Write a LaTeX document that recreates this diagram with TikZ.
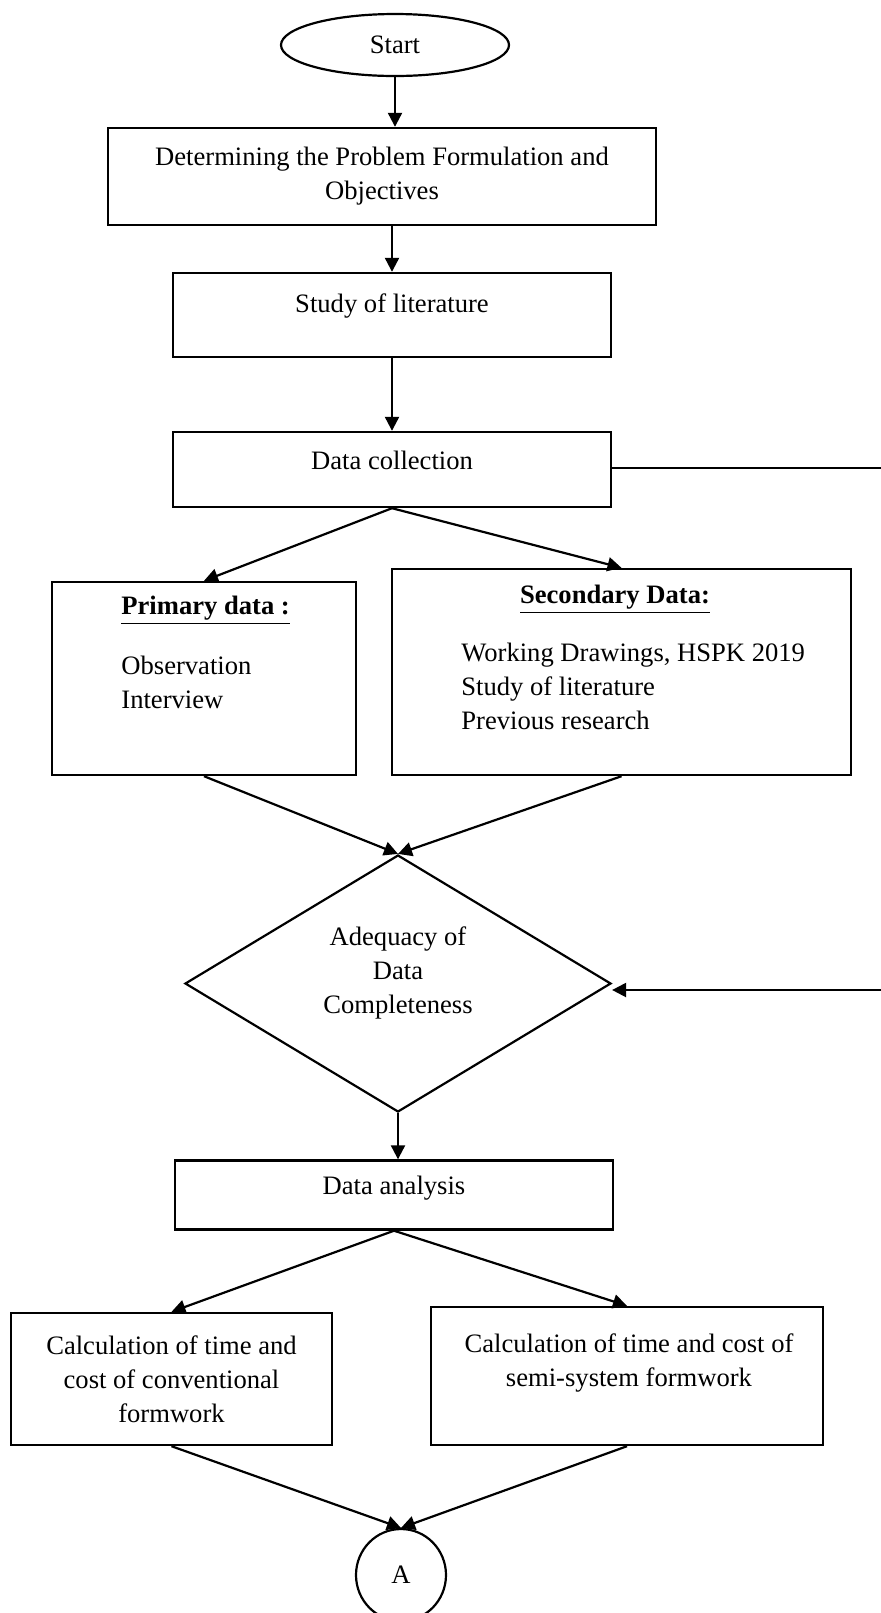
\documentclass[tikz,border=0pt]{standalone}
\usepackage{fontspec}
\setmainfont{Liberation Serif}
\usetikzlibrary{shapes.geometric, arrows.meta, positioning}

\begin{document}
\begin{tikzpicture}[
        x=0.5pt, y=-0.5pt, % 1 единица = 1 пиксель
        font=\fontsize{13.3}{17}\selectfont,
        box/.style={draw, line width=1.2pt, rectangle, inner sep=0pt, align=center}, % Прямоугольник
        term/.style={draw, line width=1.1pt, ellipse, inner sep=0pt}, % Начало и конец
        cond/.style={draw, line width=1.1pt, diamond, inner sep=0pt}, % Условие
        txt/.style={inner sep=0pt, align=center},
        lst/.style={inner sep=0pt, align=left, anchor=west},
        arr/.style={draw, line width=1.1pt, -{Triangle[length=7pt, width=7pt]}},
        link/.style={draw, line width=0.6pt},
    ]
    \useasboundingbox (0,0) rectangle (881,1613);

    \node[term, minimum width=114pt, minimum height=31pt] (start) at (395,45) {Start};
    \node[box, minimum width=274pt, minimum height=48.5pt] (prob) at (382,176.5)
        {Determining the Problem Formulation and\\Objectives};
    \node[box, minimum width=219pt, minimum height=42pt] (lit) at (392,315) {};
    \node[txt] (litT) at (392,306) {Study of literature};
    \node[box, minimum width=219pt, minimum height=37.5pt] (dc) at (392,469.5) {};
    \node[txt] (dcT) at (392,460) {Data collection};

    % Первичные и вторичные данные
    \node[box, minimum width=152pt, minimum height=96.5pt] (prim) at (204,678.5) {};
    \node[lst] (primH) at (121,610) {\textbf{\underline{Primary data :}}};
    \node[lst] (primL) at (121,682) {Observation\\Interview};
    \node[box, minimum width=229.5pt, minimum height=103pt] (sec) at (621.5,672) {};
    \node[txt] (secH) at (615,599) {\textbf{\underline{Secondary Data:}}};
    \node[lst] (secL) at (461,686.5) {Working Drawings, HSPK 2019\\Study of literature\\Previous research};

    \node[cond, minimum width=213pt, minimum height=128.5pt] (dia) at (398,983.5) {};
    \node[txt] (diaT) at (398,973) {Adequacy of\\Data\\Completeness};

    \node[box, minimum width=219pt, minimum height=34.5pt] (ana) at (394,1195) {};
    \node[txt] (anaT) at (394,1188) {Data analysis};
    \node[box, minimum width=160.5pt, minimum height=66pt] (conv) at (171.5,1379)
        {Calculation of time and\\cost of conventional\\formwork};
    \node[box, minimum width=196pt, minimum height=69pt] (semi) at (627,1376) {};
    \node[txt] (semiT) at (629,1363) {Calculation of time and cost of\\semi-system formwork};
    \node[term, minimum width=45pt, minimum height=46pt] (A) at (401,1575) {A};

    \coordinate (dcR) at (881,468);
    \coordinate (backR) at (881,990);

    \draw[arr] (start.south) -- (start.south |- prob.north);
    \draw[arr] (lit.north |- prob.south) -- (lit.north);
    \draw[arr] (lit) -- (dc);
    \draw[arr] (dc.south) -- (prim.north);
    \draw[arr] (dc.south) -- (sec.north);
    \draw[link] (dc.east |- dcR) -- (dcR);
    \draw[arr] (prim.south) -- (dia.north);
    \draw[arr] (sec.south) -- (dia.north);
    \draw[arr] (backR) -- (dia.east |- backR);
    \draw[arr] (dia.south) -- (dia.south |- ana.north);
    \draw[arr] (ana.south) -- (conv.north);
    \draw[arr] (ana.south) -- (semi.north);
    \draw[arr] (conv.south) -- (A.north);
    \draw[arr] (semi.south) -- (A.north);
\end{tikzpicture}
\end{document}
